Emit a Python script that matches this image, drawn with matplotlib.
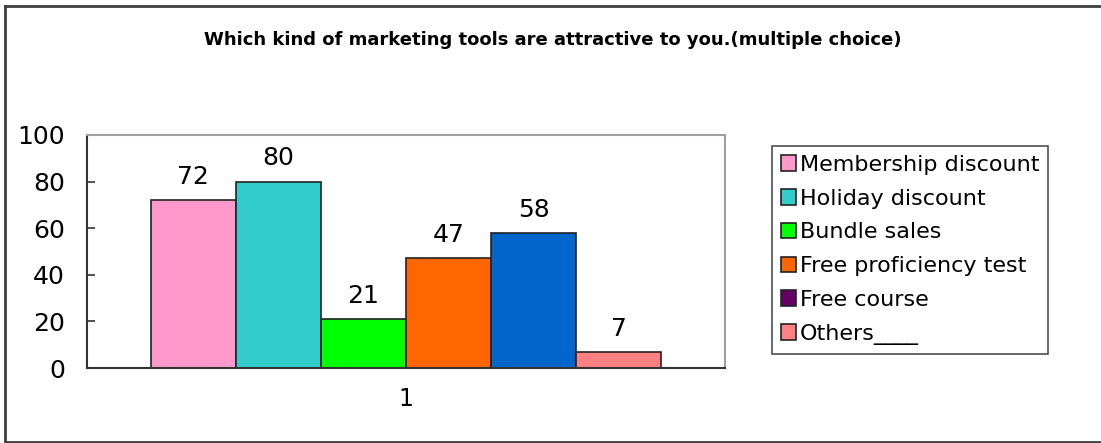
import matplotlib.pyplot as plt
from matplotlib.patches import Patch
from matplotlib.lines import Line2D

# survey answers
labels = ["Membership discount", "Holiday discount", "Bundle sales",
          "Free proficiency test", "Free course", "Others____"]
values = [72, 80, 21, 47, 58, 7]
bar_colors = ["#FF99CC", "#33CCCC", "#00FF00", "#FF6600", "#0066CC", "#FF8080"]
legend_colors = ["#FF99CC", "#33CCCC", "#00FF00", "#FF6600", "#660066", "#FF8080"]
yticks = [0, 20, 40, 60, 80, 100]
title = "Which kind of marketing tools are attractive to you.(multiple choice)"

plt.rcParams['font.family'] = 'DejaVu Sans'

fig = plt.figure(figsize=(11.01, 4.43), dpi=100)
# outer chart frame: top, left and bottom edges only
W, H = 1101, 443
for xs, ys in [((5, W), (437, 437)), ((5, 5), (1.5, 437)), ((5, W), (1.5, 1.5))]:
    fig.add_artist(Line2D([x / W for x in xs], [y / H for y in ys],
                          color="#404040", lw=2))

ax = fig.add_axes([87 / W, 75 / H, 638 / W, 233 / H])

w = 0.8 / len(values)
for i, (v, c) in enumerate(zip(values, bar_colors)):
    x = 1 + (i - (len(values) - 1) / 2) * w
    ax.bar(x, v, width=w, color=c, edgecolor="#222222", linewidth=1.2, zorder=2)
    ax.annotate(str(v), (x, v), xytext=(0, 8), textcoords="offset points",
                ha="center", va="bottom", fontsize=18)

ax.set_xlim(0.5, 1.5)
ax.set_ylim(0, 100)
ax.set_yticks(yticks)
ax.set_xticks([1])
ax.set_xticklabels(["1"])
ax.tick_params(axis="y", direction="in", length=6, width=1.2, pad=16,
               labelsize=18, color="#333333")
ax.tick_params(axis="x", length=0, pad=14, labelsize=17)

for s in ["left", "bottom"]:
    ax.spines[s].set_color("#333333")
    ax.spines[s].set_linewidth(1.5)
for s in ["top", "right"]:
    ax.spines[s].set_color("#A0A0A0")
    ax.spines[s].set_linewidth(1.5)

fig.text(553 / W, 1 - 40 / H, title, ha="center", va="center",
         fontsize=13, fontweight="bold")

handles = [Patch(facecolor=c, edgecolor="#222222", linewidth=1.2) for c in legend_colors]
leg = fig.legend(handles, labels, loc="upper left",
                 bbox_to_anchor=(772 / W, 1 - 146 / H),
                 fontsize=16, frameon=True, fancybox=False,
                 handlelength=0.7, handleheight=0.7, handletextpad=0.15,
                 labelspacing=0.62, borderpad=0.4, borderaxespad=0)
leg.get_frame().set_edgecolor("#222222")
leg.get_frame().set_linewidth(1.2)

fig.savefig("out.png", dpi=100)
